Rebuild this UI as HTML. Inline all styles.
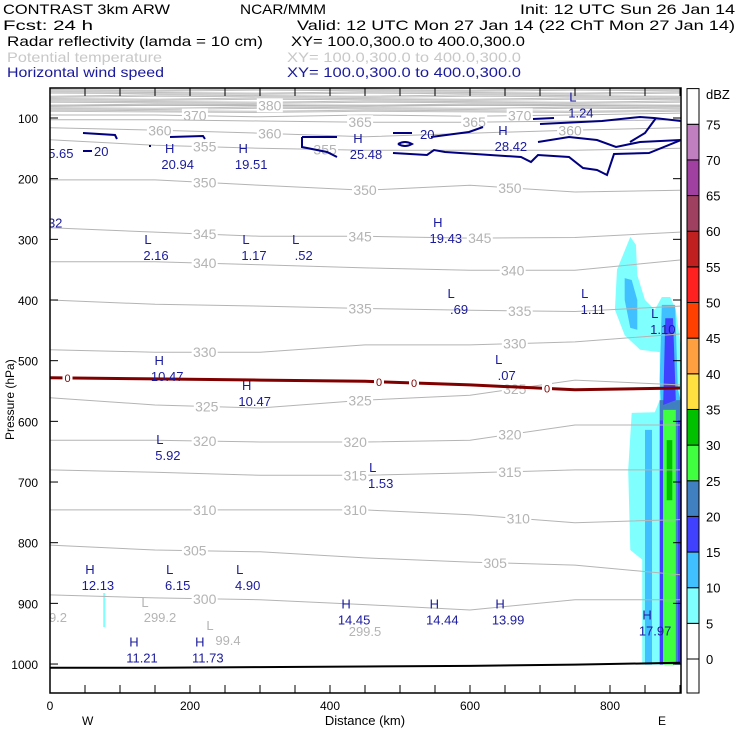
<!DOCTYPE html>
<html><head><meta charset="utf-8"><style>
body{margin:0;background:#fff}
svg{display:block;font-family:"Liberation Sans",sans-serif}
</style></head><body>
<svg id="c" width="740" height="740" viewBox="0 0 740 740">
<g font-size="14">
<text x="3" y="14" textLength="167" lengthAdjust="spacingAndGlyphs">CONTRAST  3km ARW</text>
<text x="240" y="14" textLength="86" lengthAdjust="spacingAndGlyphs">NCAR/MMM</text>
<text x="520" y="14" textLength="215" lengthAdjust="spacingAndGlyphs">Init: 12 UTC Sun 26 Jan 14</text>
<text x="3" y="30" textLength="90" lengthAdjust="spacingAndGlyphs">Fcst:   24 h</text>
<text x="297" y="30" textLength="438" lengthAdjust="spacingAndGlyphs">Valid: 12 UTC Mon 27 Jan 14 (22 ChT Mon 27 Jan 14)</text>
<text x="7" y="46" textLength="256" lengthAdjust="spacingAndGlyphs">Radar reflectivity (lamda = 10 cm)</text>
<text x="291" y="46" textLength="234" lengthAdjust="spacingAndGlyphs">XY= 100.0,300.0 to 400.0,300.0</text>
<text x="7" y="62" textLength="155" lengthAdjust="spacingAndGlyphs" fill="#c8c8c8">Potential temperature</text>
<text x="287" y="62" textLength="234" lengthAdjust="spacingAndGlyphs" fill="#c8c8c8">XY= 100.0,300.0 to 400.0,300.0</text>
<text x="7" y="77" textLength="157" lengthAdjust="spacingAndGlyphs" fill="#1a1a9c">Horizontal wind speed</text>
<text x="287" y="77" textLength="234" lengthAdjust="spacingAndGlyphs" fill="#1a1a9c">XY= 100.0,300.0 to 400.0,300.0</text>
</g>
<defs><clipPath id="pc"><rect x="50" y="88" width="631" height="605"/></clipPath></defs>
<g id="plot" clip-path="url(#pc)"></g>
<g id="axes"></g>
<g id="cbar"></g>
<rect x="50" y="88" width="631" height="605" fill="none" stroke="#000" stroke-width="1.5"/>
<text x="14" y="440" font-size="12" transform="rotate(-90 14 440)">Pressure (hPa)</text>
<text x="365" y="725" font-size="13" text-anchor="middle">Distance (km)</text>
<text x="82" y="725" font-size="12">W</text>
<text x="658" y="725" font-size="12">E</text>
<text x="706" y="99" font-size="13">dBZ</text>
</svg>
<script>
const NS="http://www.w3.org/2000/svg";
const xTicks=[0,200,400,600,800];
const pTicks=[100,200,300,400,500,600,700,800,900,1000];
const xKm=[0,150,300,450,600,750,900];
const thetaLevels=[380,370,365,360,355,350,345,340,335,330,325,320,315,310,305,300];
const thetaP=[
[79,79,79,79,79,79,79],
[95,95,98,95,97,95,92],
[103,103,105,107,107,105,103],
[116,120,125,131,125,120,116],
[136,145,150,153,153,153,150],
[202,202,211,219,211,222,219],
[281,288,295,295,298,297,288],
[337,337,342,347,351,351,334],
[400,407,410,414,417,419,410],
[482,486,486,474,474,469,456],
[561,573,578,565,557,532,540],
[631,631,634,634,631,606,606],
[680,684,689,689,685,680,680],
[746,746,746,746,754,767,762],
[804,812,815,825,832,837,853],
[886,891,894,902,911,894,894]];
const thetaLabelKm=[[314],[207,671],[443,606],[157,314,743],[221,393],[221,450,657],[221,443,614],[221,661],[443,671],[221,664],[224,443,664],[221,436,657],[436,657],[221,436,669],[207,636],[221]];
const freezeP=[528,530,532,534,540,548,545];
const groundP=[1006,1006,1005,1004,1003,1001,998];
const hlKm=[4,171,276,440,747,647,140,280,351,554,573,764,864,156,281,641,157,461,57,171,271,423,549,643,853,120,214,-4];
const hlP=[146,164,164,148,79,135,314,314,314,286,403,403,436,514,555,512,644,690,858,858,858,915,915,915,933,978,978,261];
const hlType=["","H","H","H","L","H","L","L","L","H","L","L","L","H","H","L","L","L","H","L","L","H","H","H","H","H","H",""];
const hlVal=["5.65","20.94","19.51","25.48","1.24","28.42","2.16","1.17",".52","19.43",".69","1.11","1.10","10.47","10.47",".07","5.92","1.53","12.13","6.15","4.90","14.45","14.44","13.99","17.97","11.21","11.73","32"];
const cbLevels=[-5,0,5,10,15,20,25,30,35,40,45,50,55,60,65,70,75,80];
const cbColors=["#fff","#fff","#80ffff","#40c0ff","#4040ff","#4080c0","#40ff40","#00c000","#ffe040","#ffa040","#ff4000","#ff2020","#c02020","#a04060","#a040a0","#c080c0","#fff"];
const X=k=>50+k*0.7, Y=p=>118+(p-100)*0.6067;
const plot=document.getElementById('plot'),axes=document.getElementById('axes');
function mk(t,a,parent){const e=document.createElementNS(NS,t);for(const k in a)e.setAttribute(k,a[k]);(parent||plot).appendChild(e);return e;}
function pline(ps){return ps.map((p,i)=>X(xKm[i]).toFixed(1)+','+Y(p).toFixed(1)).join(' ');}
function interp(arr,k){for(let i=0;i<xKm.length-1;i++){if(k<=xKm[i+1]){const f=(k-xKm[i])/(xKm[i+1]-xKm[i]);return arr[i]+f*(arr[i+1]-arr[i]);}}return arr[arr.length-1];}
for(let p=50;p<92;p+=2.5){const l=mk('polyline',{points:pline(xKm.map((_,i)=>p+((i*7+p)%3)-1)),fill:'none',stroke:'#c0c0c0','stroke-width':1});

}
// reflectivity echoes (km, hPa)
const echoes=[
["#80ffff","829,296 837,309 839,359 850,400 864,416 874,395 886,395 894,416 900,466 901,474 901,1001 846,1001 846,828 829,812 826,680 831,586 864,585 871,565 871,486 843,482 821,458 807,416 810,350"],
["#80ffff","76,883 79,883 79,939 76,939"],
["#40c0ff","821,364 831,367 839,400 839,449 829,446 821,400"],
["#40c0ff","874,408 893,408 897,548 901,565 901,1001 893,1001 893,598 874,598 871,532"],
["#40c0ff","850,614 860,614 860,1001 850,1001"],
["#4080c0","871,565 900,565 900,598 871,598"],
["#4080c0","893,598 897,598 897,1001 893,1001"],
["#4040ff","879,430 890,430 894,565 876,573"],
["#4040ff","871,598 876,598 876,1001 871,1001"],
["#4040ff","897,598 901,598 901,1001 897,1001"],
["#40ff40","876,581 894,581 894,1001 876,1001"],
["#00c000","881,631 889,631 889,730 881,730"]];
echoes.forEach(e=>{const pts=e[1].split(' ').map(s=>{const [k,p]=s.split(',').map(Number);return X(k)+','+Y(p);}).join(' ');
 const g=mk('polygon',{points:pts,fill:e[0]});
 
 });
thetaLevels.forEach((th,j)=>{
 const l=mk('polyline',{points:pline(thetaP[j]),fill:'none',stroke:'#b4b4b4','stroke-width':1});
 
 
 thetaLabelKm[j].forEach(k=>{const y=Y(interp(thetaP[j],k));
 const r=mk('rect',{x:X(k)-13,y:y-7,width:26,height:14,fill:'#fff','fill-opacity':k>800?0:1});
 
 
 const t=mk('text',{x:X(k),y:y+5,'font-size':14,fill:'#b4b4b4','text-anchor':'middle'});t.textContent=th;
 
 });
});
[["L",145,607],["299.2",160,622],["9.2",58,622],["299.5",365,636],["L",210,630],["99.4",228,645]].forEach(a=>{const t=mk('text',{x:a[1],y:a[2],'font-size':13,fill:'#b4b4b4','text-anchor':'middle'});t.textContent=a[0];
 
 });
const windPaths=["M83,133 L115,135 L117,139","M83,151 L92,151","M170,137 L203,136 L205,139","M149,146 L151,146",
"M302,137 L337,137","M302,137 L302,147 L327,152 L337,157",
"M393,153 L427,155 L434,150 L445,152 L521,157 L531,162 L538,155 L569,157 L583,168 L597,170 L607,175 L614,154 L649,153 L681,140",
"M393,133 L412,133","M398,144 Q405,140 412,144 Q405,148 398,144","M431,137 L469,132 L483,127","M533,119 L554,118",
"M540,124 L602,121 L640,117 L654,118 L681,121","M538,142 L569,137 L597,140 L616,147 L640,142 L681,140","M656,118 L645,133 L630,142"];
windPaths.forEach(d=>{
 const l=mk('path',{d:d,fill:'none',stroke:'#000080','stroke-width':2});
 
 });
[[94,156],[420,139]].forEach(a=>{const t=mk('text',{x:a[0],y:a[1],'font-size':13,fill:'#1a1a9c'});t.textContent='20';
 
 });
const fz=mk('polyline',{points:pline(freezeP),fill:'none',stroke:'#800000','stroke-width':3});


[[25],[470],[520],[710]].forEach(a=>{const y=Y(interp(freezeP,a[0]));
 const r=mk('rect',{x:X(a[0])-5,y:y-6,width:10,height:12,fill:'#fff'});
 
 
 const t=mk('text',{x:X(a[0]),y:y+4,'font-size':11,fill:'#800000','text-anchor':'middle'});t.textContent='0';
 
 });
const gr=mk('polyline',{points:pline(groundP),fill:'none',stroke:'#000','stroke-width':2});


hlKm.forEach((k,i)=>{
 if(hlType[i]){const t=mk('text',{x:X(k),y:Y(hlP[i])-4,'font-size':13,fill:'#1a1a9c','text-anchor':'middle'});t.textContent=hlType[i];
 
 }
 if(hlVal[i]){const t=mk('text',{x:X(k)+8,y:Y(hlP[i])+12,'font-size':13,fill:'#1a1a9c','text-anchor':'middle'});t.textContent=hlVal[i];
 
 }
});
xTicks.forEach(k=>{const t=mk('text',{x:X(k),y:710,'font-size':12,'text-anchor':'middle'},axes);t.textContent=k;
 
 });
for(let k=0;k<=900;k+=50){[[88,96],[685,693]].forEach(r=>{const l=mk('line',{x1:X(k),x2:X(k),y1:r[0],y2:r[1],stroke:'#000'},axes);
 
 });}
pTicks.forEach(p=>{const t=mk('text',{x:38,y:Y(p)+5,'font-size':12,'text-anchor':'end'},axes);t.textContent=p;
 
 
 [[50,58],[673,681]].forEach(r=>{const l=mk('line',{x1:r[0],x2:r[1],y1:Y(p),y2:Y(p),stroke:'#000'},axes);
 
 });});
const cb=document.getElementById('cbar');
const cbY=v=>659-v*7.13;
cbColors.forEach((c,i)=>{const y1=Math.max(88,cbY(cbLevels[i+1])),y2=Math.min(693,cbY(cbLevels[i]));
 const r=mk('rect',{x:687,y:y1,width:12,height:y2-y1,fill:c,stroke:'#000','stroke-width':1},cb);
 
 });
cbLevels.slice(1,17).forEach(v=>{const t=mk('text',{x:706,y:cbY(v)+5,'font-size':13},cb);t.textContent=v;
 
 });
</script>
</body></html>
